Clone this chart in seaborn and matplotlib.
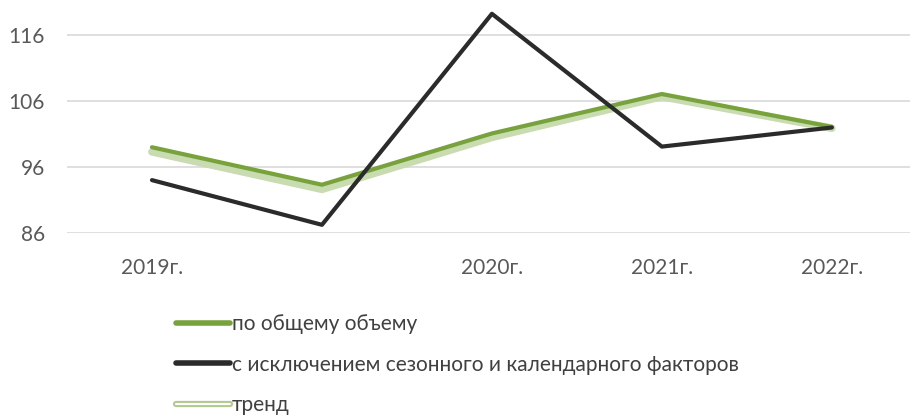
import numpy as np
import pandas as pd
import seaborn as sns
import matplotlib.pyplot as plt
import matplotlib.patheffects as pe
from matplotlib.lines import Line2D

# categories on the x axis (second point has no label)
periods = ['2019г.', '', '2020г.', '2021г.', '2022г.']
total_volume = [99.0, 93.3, 101.1, 107.1, 102.1]
seasonal_adj = [94.0, 87.2, 119.3, 99.1, 102.0]
trend = [98.3, 92.6, 100.5, 106.7, 101.9]

labels = ['по общему объему',
          'с исключением сезонного и календарного факторов',
          'тренд']

sns.set_style('white')
plt.rcParams['font.family'] = ['Lato', 'DejaVu Sans']

x = np.arange(len(periods))
df = pd.DataFrame({'x': x, 'total': total_volume, 'adj': seasonal_adj, 'trend': trend})

fig = plt.figure(figsize=(9.1, 4.19), dpi=100)
ax = fig.add_axes([67 / 910, 0.4446, 1 - 67 / 910, 1 - 0.4446])

sns.lineplot(data=df, x='x', y='trend', ax=ax, color='#c9dbb0', linewidth=5.5,
             sort=False, zorder=2, legend=False)
sns.lineplot(data=df, x='x', y='total', ax=ax, color='#78a23c', linewidth=3,
             sort=False, zorder=3, legend=False)
sns.lineplot(data=df, x='x', y='adj', ax=ax, color='#2b2b2b', linewidth=3,
             sort=False, zorder=4, legend=False)

ax.set_xlim(-0.5, 4.46)
ax.set_ylim(86, 121.4)
ax.set_yticks([86, 96, 106, 116])
ax.set_xticks(x)
ax.set_xticklabels(periods)
ax.yaxis.grid(True, color='#d9d9d9', linewidth=1.2)
ax.set_xlabel('')
ax.set_ylabel('')
for s in ax.spines.values():
    s.set_visible(False)
ax.tick_params(axis='both', length=0, labelsize=15, colors='#595959')
ax.tick_params(axis='x', pad=18)
ax.tick_params(axis='y', pad=16)

# legend below the plot; trend handle drawn as a double line
trend_handle = Line2D([], [], color='white', linewidth=1.5,
                      path_effects=[pe.Stroke(linewidth=4.5, foreground='#b3ca8f'), pe.Normal()])
handles = [Line2D([], [], color='#78a23c', linewidth=4),
           Line2D([], [], color='#2b2b2b', linewidth=4),
           trend_handle]
leg = fig.legend(handles, labels, loc='upper left', bbox_to_anchor=(0.184, 0.27),
                 frameon=False, fontsize=15, handlelength=2.6, handletextpad=0.08,
                 labelspacing=0.98, borderaxespad=0)
for t in leg.get_texts():
    t.set_color('#404040')

fig.savefig('out.png', dpi=100)
